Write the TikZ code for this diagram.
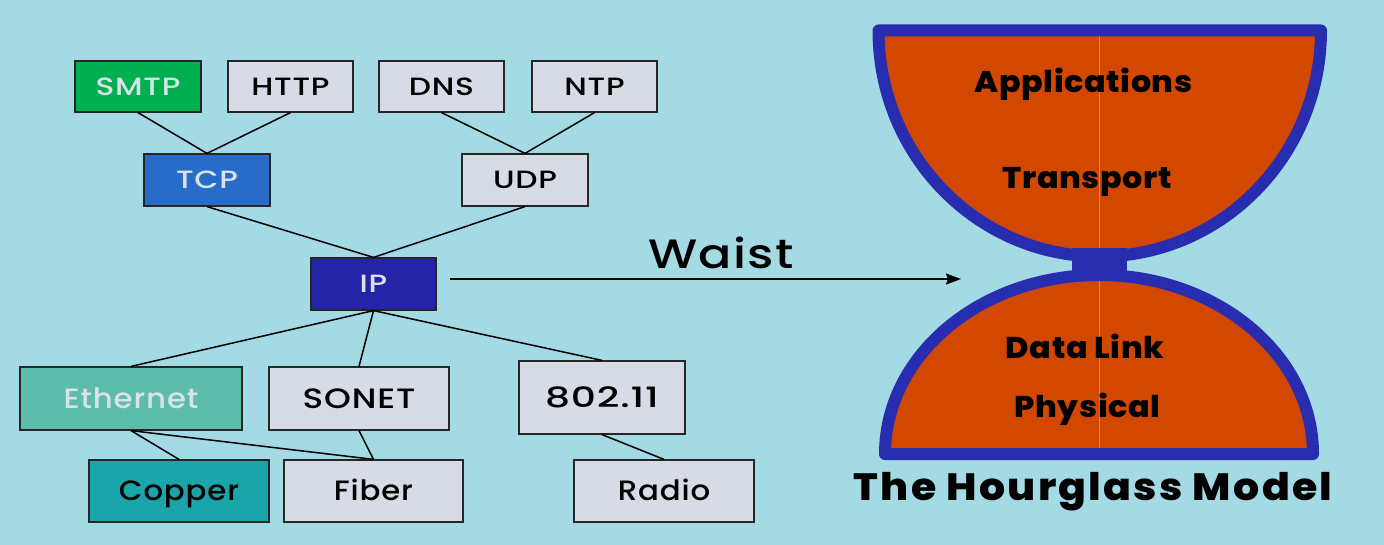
\documentclass[tikz,border=0pt]{standalone}
\usepackage{fontspec}
\setmainfont{Poppins}
\newfontfamily\medfont{Poppins Medium}
\newfontfamily\heavyfont{Poppins ExtraBold}
\usetikzlibrary{arrows.meta}
\definecolor{bg}{RGB}{163,218,228}
\definecolor{boxgray}{RGB}{214,219,229}
\definecolor{smtpgreen}{RGB}{0,176,80}
\definecolor{tcpblue}{RGB}{38,108,200}
\definecolor{ipblue}{RGB}{36,36,168}
\definecolor{ethteal}{RGB}{92,190,170}
\definecolor{copperteal}{RGB}{25,165,170}
\definecolor{lighttext}{RGB}{218,226,232}
\definecolor{hgorange}{RGB}{211,72,0}
\definecolor{hgblue}{RGB}{40,45,175}
\definecolor{hgline}{RGB}{228,140,40}
\tikzset{
  proto/.style={draw=black!85, line width=1.2pt, fill=boxgray, inner sep=0pt,
    font=\medfont\fontsize{25}{30}\selectfont\addfontfeature{FakeStretch=1.25,LetterSpace=3}, text height=17.5pt, text depth=0pt},
  widetext/.style={font=\medfont\fontsize{28}{32}\selectfont\addfontfeature{FakeStretch=#1,LetterSpace=3}, text height=19.5pt},
  protobig/.style={proto, widetext=1.1},
  lighttxt/.style={text=lighttext},
  conn/.style={draw=black, line width=1.5pt},
  waistarrow/.style={draw=black, line width=2pt, -{Stealth[length=15pt,width=11pt,inset=2pt]}},
  bowl/.style={fill=hgorange, draw=hgblue, line width=12pt, line join=round, line cap=round},
  layertxt/.style={anchor=base, font=\heavyfont\fontsize{30}{34}\selectfont\addfontfeature{FakeStretch=1.06,LetterSpace=2}},
}
\begin{document}
\begin{tikzpicture}[x=1pt,y=-1pt]
\fill[bg] (0,0) rectangle (1384,545);
\useasboundingbox (0,0) rectangle (1384,545);

% application layer
\node[proto, fill=smtpgreen, lighttxt, minimum width=126pt, minimum height=51pt] (smtp) at (138,86.5) {SMTP};
\node[proto, minimum width=125pt, minimum height=51pt] (http) at (290.5,86.5) {HTTP};
\node[proto, minimum width=125pt, minimum height=51pt] (dns) at (441.5,86.5) {DNS};
\node[proto, minimum width=125pt, minimum height=51pt] (ntp) at (594.5,86.5) {NTP};
% transport
\node[proto, fill=tcpblue, lighttxt, minimum width=126pt, minimum height=52pt] (tcp) at (207,180) {TCP};
\node[proto, minimum width=126pt, minimum height=52pt] (udp) at (525,180) {UDP};
% network
\node[proto, fill=ipblue, lighttxt, minimum width=125pt, minimum height=52pt] (ip) at (373.5,284) {IP};
% link
\node[protobig, fill=ethteal, lighttxt, minimum width=222pt, minimum height=63pt] (eth) at (131,398.5) {Ethernet};
\node[protobig, widetext=1.22, minimum width=180pt, minimum height=63pt] (sonet) at (359,398.5) {SONET};
\node[protobig, widetext=1.4, minimum width=166pt, minimum height=73pt] (wifi) at (602,397.5) {802.11};
% physical
\node[protobig, fill=copperteal, minimum width=180pt, minimum height=62pt] (copper) at (179,491) {Copper};
\node[protobig, minimum width=179pt, minimum height=62pt] (fiber) at (373.5,491) {Fiber};
\node[protobig, minimum width=180pt, minimum height=62pt] (radio) at (664,491) {Radio};

% connectors
\draw[conn] (smtp.south) -- (tcp.north);
\draw[conn] (http.south) -- (tcp.north);
\draw[conn] (dns.south) -- (udp.north);
\draw[conn] (ntp.south) -- (udp.north);
\draw[conn] (tcp.south) -- (ip.north);
\draw[conn] (udp.south) -- (ip.north);
\draw[conn] (ip.south) -- (eth.north);
\draw[conn] (ip.south) -- (sonet.north);
\draw[conn] (ip.south) -- (wifi.north);
\draw[conn] (eth.south) -- (copper.north);
\draw[conn] (eth.south) -- (fiber.north);
\draw[conn] (sonet.south) -- (fiber.north);
\draw[conn] (wifi.south) -- (radio.north);

% waist arrow
\coordinate (waistend) at (961,279);
\draw[waistarrow] ([xshift=13pt,yshift=5pt]ip.east) -- (waistend);
\node[anchor=base, font=\medfont\fontsize{41}{46}\selectfont\addfontfeature{FakeStretch=1.2,LetterSpace=3}] (waist) at (721,269) {Waist};

% hourglass
\fill[hgorange] (878.5,30.5) -- (1321,30.5) arc[start angle=0, end angle=180, x radius=221.25, y radius=226] -- cycle;
\fill[hgorange] (885,454) arc[start angle=180, end angle=360, x radius=214, y radius=179] -- cycle;
\draw[hgline, line width=1pt] (1099,36) -- (1099,449);
\draw[bowl, fill=none] (878.5,30.5) -- (1321,30.5) arc[start angle=0, end angle=180, x radius=221.25, y radius=226] -- cycle;
\draw[bowl, fill=none] (885,454) arc[start angle=180, end angle=360, x radius=214, y radius=179] -- cycle;
\fill[hgblue] (1072,248) rectangle (1127,277);

\node[layertxt] (app) at (1083.5,93) {Applications};
\node[layertxt] (trans) at (1087,189) {Transport};
\node[layertxt] (dl) at (1085,358.5) {Data Link};
\node[layertxt] (phys) at (1087.5,417) {Physical};
\node[anchor=base, font=\heavyfont\fontsize{38}{42}\selectfont\addfontfeature{FakeStretch=1.08,LetterSpace=6}] (title) at (1093,500) {The Hourglass Model};
\end{tikzpicture}
\end{document}
